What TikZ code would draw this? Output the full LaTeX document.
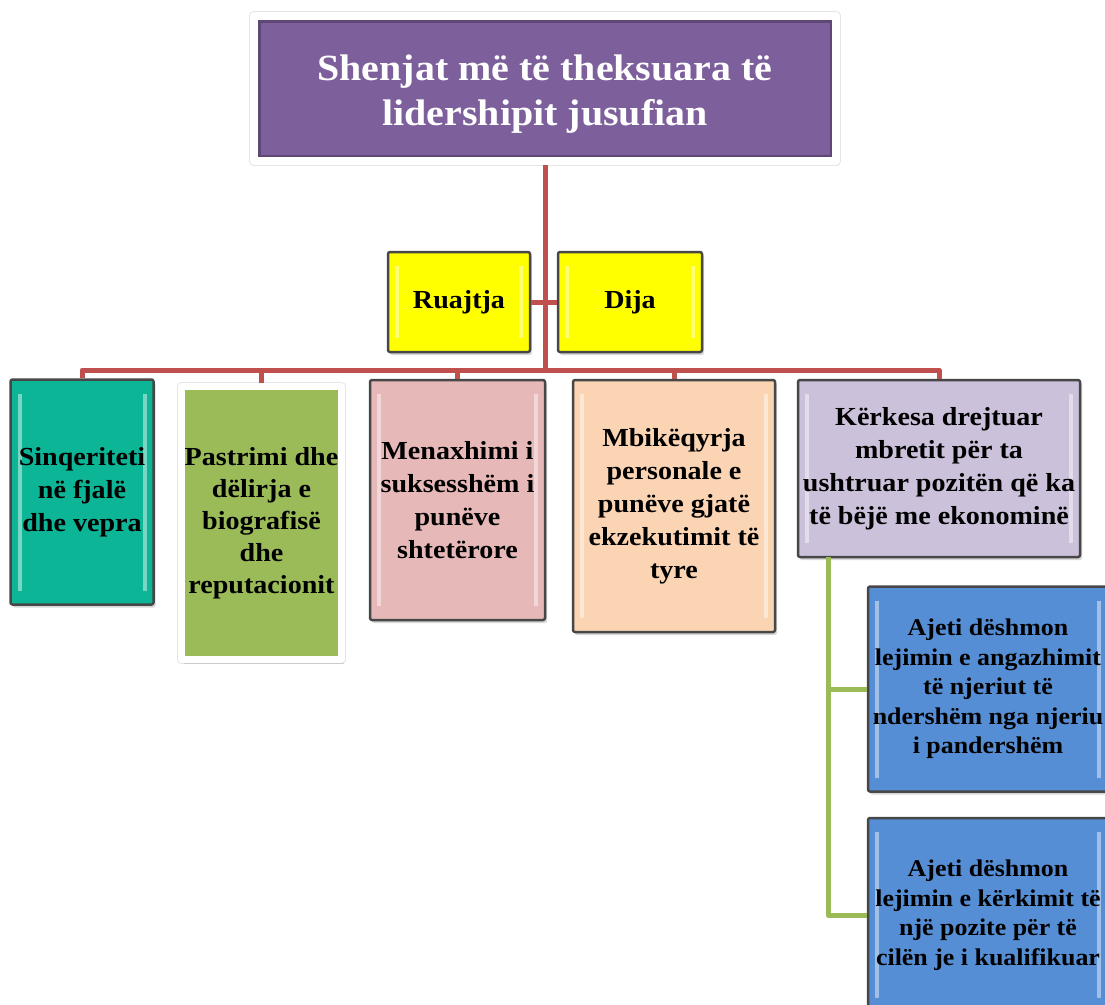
\documentclass[tikz,border=0pt]{standalone}
\usepackage{fontspec}
\setmainfont{Liberation Serif}[FakeStretch=1.08]
\usetikzlibrary{shadows}
\definecolor{titlepurple}{RGB}{125,95,156}
\definecolor{boxyellow}{RGB}{255,255,0}
\definecolor{boxteal}{RGB}{11,181,150}
\definecolor{boxgreen}{RGB}{155,187,89}
\definecolor{boxpink}{RGB}{230,185,184}
\definecolor{boxpeach}{RGB}{251,212,180}
\definecolor{boxlilac}{RGB}{204,193,218}
\definecolor{boxblue}{RGB}{85,142,213}
\definecolor{linered}{RGB}{192,80,77}
\begin{document}
\begin{tikzpicture}[x=1pt,y=-1pt,line join=round,
	bevel/.style={path picture={
		\draw[white,opacity=.45,line width=4pt]
		([xshift=9pt,yshift=-14pt]path picture bounding box.north west)--([xshift=9pt,yshift=14pt]path picture bounding box.south west)
		([xshift=-9pt,yshift=-14pt]path picture bounding box.north east)--([xshift=-9pt,yshift=14pt]path picture bounding box.south east);}},
	lvlbox/.style={draw=black!72,line width=2.5pt,rounded corners=2pt,inner sep=0pt,align=center,
		font=\bfseries\fontsize{26}{33}\selectfont,drop shadow={opacity=.3,shadow xshift=2pt,shadow yshift=-3pt},bevel},
	subbox/.style={lvlbox,fill=boxblue,font=\bfseries\fontsize{24}{29.5}\selectfont},
	framebox/.style={draw=white,line width=7pt,inner sep=0pt,align=center,
		preaction={draw=black!10,line width=9pt},
		drop shadow={opacity=.25,shadow xshift=2pt,shadow yshift=-4pt}},
	redline/.style={draw=linered,line width=5pt},
	greenline/.style={draw=boxgreen,line width=5pt}]
	\useasboundingbox[fill=white] (0,0) rectangle (1105,1004);
	\node[framebox,line width=8pt,preaction={draw=black!10,line width=10pt},fill=titlepurple,text=white,
		minimum width=582pt,minimum height=145pt,font=\bfseries\fontsize{37}{45}\selectfont,
		path picture={\draw[titlepurple!75!black,line width=13pt] (path picture bounding box.north west) rectangle (path picture bounding box.south east);}]
		(title) at (545,88.5)
		{\rule{0pt}{36pt}Shenjat më të theksuara të\\lidershipit jusufian};
	\node[lvlbox,fill=boxyellow,minimum width=142pt,minimum height=100pt] (ruajtja) at (459,302) {Ruajtja};
	\node[lvlbox,fill=boxyellow,minimum width=144pt,minimum height=100pt] (dija) at (630,302) {Dija};
	\node[lvlbox,fill=boxteal,minimum width=143pt,minimum height=225pt] (sinq) at (82,492)
		{Sinqeriteti\\në fjalë\\dhe vepra};
	\node[framebox,fill=boxgreen,minimum width=160pt,minimum height=273pt,
		font=\bfseries\fontsize{26}{32}\selectfont] (pastr) at (261.5,523)
		{Pastrimi dhe\\dëlirja e\\biografisë\\dhe\\reputacionit};
	\node[lvlbox,fill=boxpink,minimum width=175pt,minimum height=240pt] (menax) at (457.5,500)
		{Menaxhimi i\\suksesshëm i\\punëve\\shtetërore};
	\node[lvlbox,fill=boxpeach,minimum width=202pt,minimum height=252pt] (mbik) at (674,506)
		{Mbikëqyrja\\personale e\\punëve gjatë\\ekzekutimit të\\tyre};
	\node[lvlbox,fill=boxlilac,minimum width=282pt,minimum height=177pt] (kerk) at (939,468.5)
		{Kërkesa drejtuar\\mbretit për ta\\ushtruar pozitën që ka\\të bëjë me ekonominë};
	\node[subbox,minimum width=240pt,minimum height=205pt] (ajeti1) at (988,689)
		{Ajeti dëshmon\\lejimin e angazhimit\\të njeriut të\\ndershëm nga njeriu\\i pandershëm};
	\node[subbox,minimum width=240pt,minimum height=194pt] (ajeti2) at (988,915)
		{Ajeti dëshmon\\lejimin e kërkimit të\\një pozite për të\\cilën je i kualifikuar};
	\coordinate (bus) at (545,370);
	\coordinate (kerkfoot) at (828,557);
	\draw[redline] (title.south) -- (bus);
	\draw[redline] (ruajtja.east) -- (dija.west);
	\foreach \n in {sinq,pastr,menax,mbik,kerk}
		\draw[redline] (bus) -| (\n.north);
	\draw[greenline] (kerkfoot) |- (ajeti1.west);
	\draw[greenline] (kerkfoot) |- (ajeti2.west);
\end{tikzpicture}
\end{document}
